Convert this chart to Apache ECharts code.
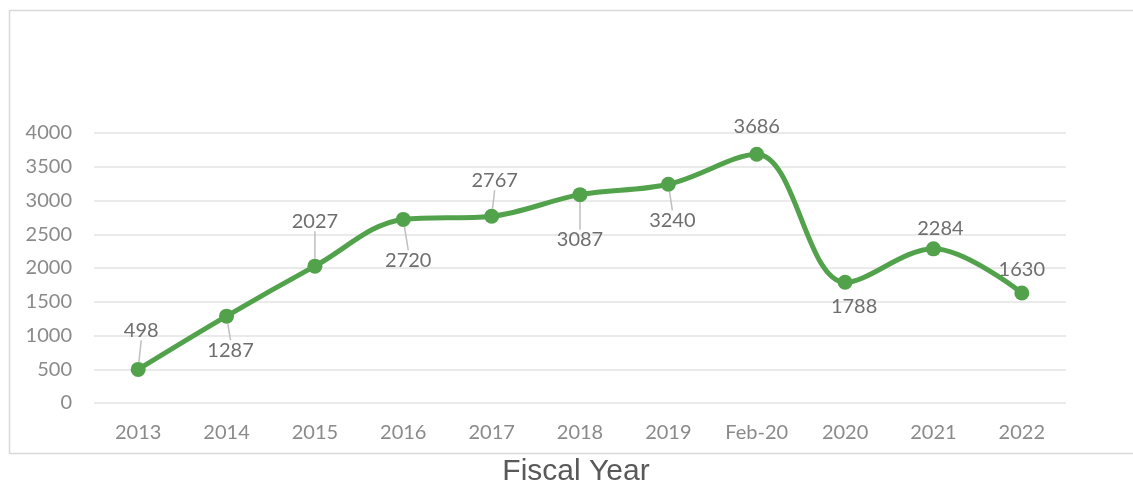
<!DOCTYPE html>
<html><head><meta charset="utf-8">
<script src="https://cdn.jsdelivr.net/npm/echarts@6/dist/echarts.min.js"></script>
<style>html,body{margin:0;padding:0;background:#fff}#c{width:1133px;height:487px}</style>
</head><body><div id="c"></div>
<script>
const categories = ['2013','2014','2015','2016','2017','2018','2019','Feb-20','2020','2021','2022'];
const values = [498, 1287, 2027, 2720, 2767, 3087, 3240, 3686, 1788, 2284, 1630];
const yTicks = [0, 500, 1000, 1500, 2000, 2500, 3000, 3500, 4000];
const axisTitle = 'Fiscal Year';

// label placement (offset of label centre from the point, px) and whether a leader line is shown
const labelOffsets = [[3,-39],[4,34],[0,-45],[5,41],[3,-36],[0,45],[4,36],[0,-28],[9,24],[7,-20],[0,-23]];
const showLeader = [true,true,true,true,true,true,true,false,false,false,false];

const chart = echarts.init(document.getElementById('c'));
const font = 'Lato, "Open Sans", sans-serif';
chart.setOption({
  animation: false,
  graphic: [
    {type:'rect', shape:{x:9.5, y:10.5, width:1140, height:443}, style:{fill:'none', stroke:'#d9d9d9', lineWidth:1.5}, silent:true},
    {type:'text', x:576, y:472, style:{text:axisTitle, font:'30px "Liberation Sans", Arial, sans-serif', fill:'#595959', textAlign:'center', textVerticalAlign:'middle'}}
  ],
  grid: {left:94, right:67, top:133, bottom:84},
  xAxis: {
    type:'category', data:categories, boundaryGap:true,
    axisLine:{show:false}, axisTick:{show:false},
    axisLabel:{color:'#8a8a8a', fontSize:20, fontFamily:font, margin:20}
  },
  yAxis: {
    type:'value', min:yTicks[0], max:yTicks[yTicks.length-1], interval:500,
    axisLine:{show:false}, axisTick:{show:false},
    axisLabel:{color:'#8a8a8a', fontSize:20, fontFamily:font, margin:22, formatter: v => String(v)},
    splitLine:{lineStyle:{color:'#e3e3e3', width:1.5}}
  },
  series: [{
    type:'line', smooth:0.35,
    data: values.map((v,i)=>({value:v, labelLine:{show:showLeader[i]}})),
    symbol:'circle', symbolSize:15,
    lineStyle:{color:'#52a24c', width:5},
    itemStyle:{color:'#52a24c'},
    label:{show:true, color:'#6e6e6e', fontSize:20, fontFamily:font},
    labelLine:{show:true, lineStyle:{color:'#bfbfbf', width:1.5}},
    labelLayout: function(p){
      const o = labelOffsets[p.dataIndex];
      const cx = p.rect.x + p.rect.width/2, cy = p.rect.y + p.rect.height/2;
      return {x: cx + o[0], y: cy + o[1], align:'center', verticalAlign:'middle'};
    }
  }]
});
</script></body></html>
